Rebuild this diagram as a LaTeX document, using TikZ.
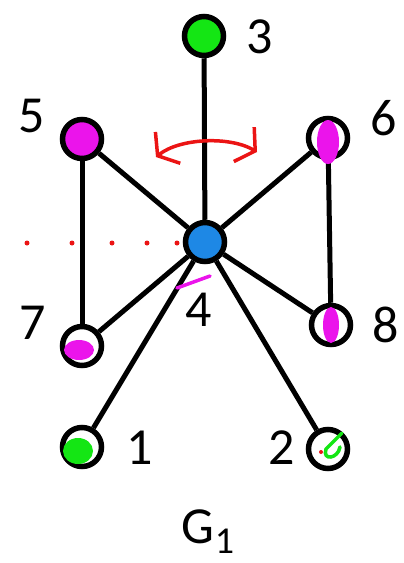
\documentclass[tikz,border=0pt]{standalone}
\usepackage{fontspec}
\setmainfont{Carlito}
\usepackage{tikz}
\usetikzlibrary{arrows.meta, calc}
\definecolor{vblue}{RGB}{30,136,229}
\definecolor{vgreen}{RGB}{20,230,20}
\definecolor{vpink}{RGB}{235,20,235}
\definecolor{vred}{RGB}{235,20,20}
\tikzset{
    vertex/.style={circle, draw=black, line width=5.5pt, minimum size=39pt, inner sep=0pt, fill=white},
    edge/.style={black, line width=5pt},
    lbl/.style={inner sep=0pt, font=\fontsize{52}{56}\selectfont},
    scribble/.style={line width=3.5pt, line cap=round}
}

\begin{document}
\begin{tikzpicture}[x=1pt, y=-1pt]
        \useasboundingbox (0,0) rectangle (404,563);

        % Vertices
        \node (v4) [vertex, fill=vblue] at (205,242) {};
        \node (v3) [vertex, fill=vgreen] at (204,36) {};
        \node (v5) [vertex, fill=vpink] at (82,139) {};
        \node (v6) [vertex] at (328,138) {};
        \node (v7) [vertex] at (82,346) {};
        \node (v8) [vertex] at (331,325) {};
        \node (v1) [vertex] at (82,447) {};
        \node (v2) [vertex] at (328,449) {};

        % Edges
        \draw[edge] (v4) -- (v3);
        \draw[edge] (v4) -- (v5);
        \draw[edge] (v4) -- (v6);
        \draw[edge] (v4) -- (v7);
        \draw[edge] (v4) -- (v8);
        \draw[edge] (v4) -- (v1);
        \draw[edge] (v4) -- (v2);
        \draw[edge] (v5) -- (v7);
        \draw[edge] (v6) -- (v8);

        % Colour marks on the vertices
        \fill[vpink] (v6.center) ++(0,4) ellipse (11pt and 22pt);
        \fill[vpink] (v8.center) ellipse (8pt and 18pt);
        \fill[vpink] ($(v7.center)+(-3,4)$) ellipse (15pt and 10pt);
        \fill[vgreen] ($(v1.center)+(-4,4)$) ellipse (15pt and 13pt);
        \draw[vgreen, scribble] ($(v2.center)+(14,-16)$) -- ($(v2.center)+(-2,0)$)
            .. controls ($(v2.center)+(-6,12)$) and ($(v2.center)+(10,10)$) .. ($(v2.center)+(12,-2)$);
        \fill[vred] ($(v2.center)+(-7,3)$) circle (2pt);

        % Labels
        \node (l3) [lbl] at (260,37) {3};
        \node (l5) [lbl] at (32,116) {5};
        \node (l6) [lbl] at (384,118) {6};
        \node (l7) [lbl] at (33,323) {7};
        \node (l4) [lbl] at (199,310) {4};
        \node (l8) [lbl] at (386,325) {8};
        \node (l1) [lbl] at (140,448) {1};
        \node (l2) [lbl] at (282,448) {2};
        \node (title) [lbl, anchor=base] at (208,543) {G\raisebox{-10pt}{\fontsize{38}{40}\selectfont 1}};

        % Swap arrow and mirror line
        \draw[vred, scribble, {Straight Barb[length=13pt, width=40pt]}-{Straight Barb[length=13pt, width=40pt]}]
            (156,157) .. controls (180,138) and (230,136) .. (257,152);
        \foreach \x in {27,72,112,147,177}
            \fill[vred] (\x,243) circle (2.5pt);
        \draw[vpink, scribble] (177,288) -- (210,276);
    \end{tikzpicture}
\end{document}
